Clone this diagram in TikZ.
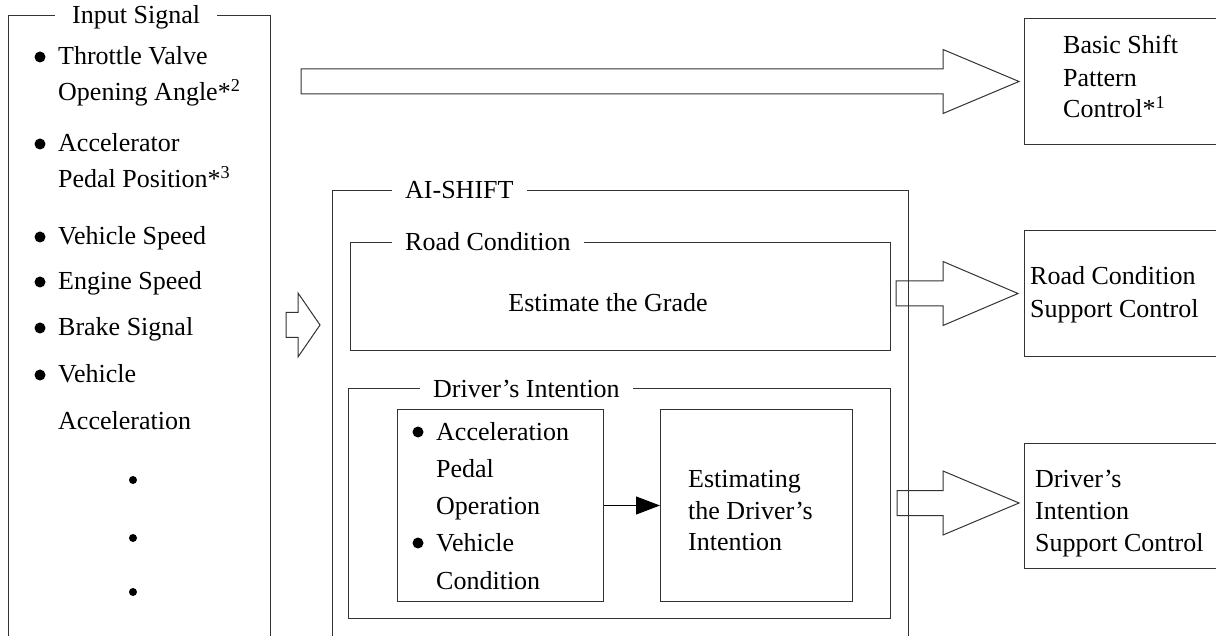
\documentclass[tikz,border=0pt]{standalone}
\usepackage{fontspec}
\setmainfont{Liberation Serif}
\usetikzlibrary{arrows.meta,positioning,calc}

\newcommand\diagfont{\fontsize{26}{32}\selectfont}

% hollow block arrow: tail, tip, head length
\newcommand\fatarrow[3]{%
  \draw[fat] let \p1=(#1), \p2=(#2) in
    (\x1,\y2+12.5pt) -- (\x2-#3pt,\y2+12.5pt) -- (\x2-#3pt,\y2+32pt)
    -- (\x2,\y2) -- (\x2-#3pt,\y2-32pt) -- (\x2-#3pt,\y2-12.5pt)
    -- (\x1,\y2-12.5pt) -- cycle;}

\begin{document}
\begin{tikzpicture}[x=1pt,y=-1pt,
  panel/.style={draw=black!80,line width=1pt,anchor=north west,inner sep=0pt},
  heading/.style={fill=white,inner xsep=13pt,inner ysep=1pt,anchor=base west,font=\diagfont},
  line/.style={anchor=base west,inner sep=0pt,font=\diagfont},
  bullet/.style={circle,fill=black,inner sep=0pt,minimum size=11pt},
  fat/.style={draw=black!80,line width=1pt},
  link/.style={-{Triangle[length=24pt,width=18pt]},line width=1pt}]
  \useasboundingbox (0,0) rectangle (1216,636);
  \clip (0,0) rectangle (1216,636);

  % frames
  \node[panel,minimum width=262pt,minimum height=700pt] (input) at (8,15) {};
  \node[panel,minimum width=240pt,minimum height=126pt] (basic) at (1024,18) {};
  \node[panel,minimum width=576pt,minimum height=700pt] (ai) at (332,190) {};
  \node[panel,minimum width=540pt,minimum height=108pt] (road) at (350,242) {};
  \node[panel,minimum width=542pt,minimum height=230pt] (driver) at (348,388) {};
  \node[panel,minimum width=206pt,minimum height=192pt] (cues) at (397,409) {};
  \node[panel,minimum width=192pt,minimum height=192pt] (judge) at (660,409) {};
  \node[panel,minimum width=240pt,minimum height=126pt] (roadctl) at (1024,230) {};
  \node[panel,minimum width=240pt,minimum height=125pt] (drvctl) at (1024,443) {};

  % frame titles
  \node[heading,inner xsep=17pt] (sigtitle) at ($(input.north west)+(47,9)$) {Input Signal};
  \node[heading] (aititle) at ($(ai.north west)+(60,9)$) {AI-SHIFT};
  \node[heading] (roadtitle) at ($(road.north west)+(42,9)$) {Road Condition};
  \node[heading] (drvtitle) at ($(driver.north west)+(72,9)$) {Driver’s Intention};

  % input signals
  \foreach \ty/\tx [count=\k] in {65/Throttle Valve, 101/{Opening Angle*\textsuperscript{2}},
      152/Accelerator, 188/{Pedal Position*\textsuperscript{3}}, 245/Vehicle Speed,
      290/Engine Speed, 336/Brake Signal, 383/Vehicle, 429/Acceleration}
    \node[line] (sig\k) at (58,\ty) {\tx};
  \foreach \k in {1,3,5,6,7,8}
    \node[bullet] (sigdot\k) at ($(sig\k.base west)+(-18,-8)$) {};
  \foreach \dy [count=\k] in {480,538,592}
    \node[bullet,minimum size=8pt] (more\k) at (133,\dy) {};

  % output blocks
  \foreach \ty/\tx [count=\k] in {54/Basic Shift, 87/Pattern, 118/{Control*\textsuperscript{1}}}
    \node[line] (basic\k) at (1063,\ty) {\tx};
  \foreach \ty/\tx [count=\k] in {285/Road Condition, 318/Support Control}
    \node[line] (roadctl\k) at (1030,\ty) {\tx};
  \foreach \ty/\tx [count=\k] in {487/Driver’s, 519/Intention, 551/Support Control}
    \node[line] (drvctl\k) at (1035,\ty) {\tx};

  % AI-SHIFT contents
  \node[line,anchor=base] (grade) at (608,312) {Estimate the Grade};
  \foreach \ty/\tx [count=\k] in {440/Acceleration, 477/Pedal, 514/Operation,
      551/Vehicle, 589/Condition}
    \node[line] (cue\k) at (436,\ty) {\tx};
  \foreach \k in {1,4}
    \node[bullet] (cuedot\k) at ($(cue\k.base west)+(-18,-8)$) {};
  \foreach \ty/\tx [count=\k] in {487/Estimating, 519/the Driver’s, 550/Intention}
    \node[line] (judge\k) at (688,\ty) {\tx};
  \draw[link] (cues) -- (judge);

  % block arrows
  \coordinate (longtip) at ($(basic.west)+(-5,0)$);
  \coordinate (longtail) at ($(input.east |- longtip)+(30,0)$);
  \coordinate (intip) at ($(ai.north west)+(-12,135)$);
  \coordinate (intail) at ($(input.east |- intip)+(15,0)$);
  \coordinate (roadtip) at ($(roadctl.west)+(-6,0)$);
  \coordinate (roadtail) at ($(road.east |- roadtip)+(5,0)$);
  \coordinate (drvtip) at ($(drvctl.west)+(-5,-3)$);
  \coordinate (drvtail) at ($(driver.east |- drvtip)+(6,0)$);
  \fatarrow{longtail}{longtip}{76}
  \fatarrow{intail}{intip}{22}
  \fatarrow{roadtail}{roadtip}{75}
  \fatarrow{drvtail}{drvtip}{76}
\end{tikzpicture}
\end{document}
